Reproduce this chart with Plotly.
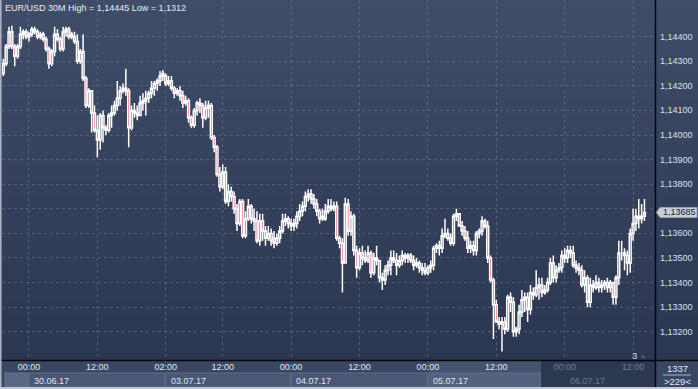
import plotly.graph_objects as go

# ---------------- DATA (EUR/USD 30M, prices in pips = 1e-4) ----------------
opens = [11424,11425,11429,11436,11442,11436,11432,11436,11441,11442,11440,11441,11443,11442,11440,11441,11439,11435,11429,11434,
11441,11439,11435,11442,11443,11441,11440,11438,11430,11434,11423,11412,11418,11409,11402,11398,11408,11403,11402,11408,
11409,11412,11415,11418,11419,11418,11403,11410,11409,11408,11413,11414,11415,11417,11419,11421,11422,11424,11424,11421,
11422,11419,11417,11418,11416,11413,11414,11407,11404,11410,11413,11412,11407,11411,11412,11399,11395,11384,11379,11385,
11373,11377,11375,11370,11364,11373,11359,11366,11371,11366,11365,11357,11365,11361,11358,11360,11358,11356,11358,11361,
11365,11366,11364,11363,11364,11367,11369,11371,11375,11376,11374,11372,11369,11367,11366,11369,11371,11370,11371,11358,
11356,11348,11372,11361,11367,11353,11346,11352,11350,11349,11352,11344,11350,11349,11342,11341,11345,11347,11350,11349,
11347,11349,11351,11350,11351,11349,11347,11348,11346,11345,11344,11346,11347,11354,11355,11354,11359,11360,11358,11356,
11367,11368,11363,11361,11358,11354,11355,11353,11360,11361,11365,11363,11350,11341,11331,11324,11323,11324,11321,11334,
11332,11320,11321,11328,11333,11334,11329,11336,11335,11338,11339,11336,11337,11340,11348,11342,11345,11346,11351,11350,
11353,11352,11347,11346,11345,11339,11342,11332,11339,11338,11340,11338,11339,11340,11338,11340,11334,11342,11352,11352,
11351,11348,11360,11364,11367,11366,11367]
highs = [11428,11431,11437,11444,11444.5,11437,11437,11444,11443,11443,11442,11444,11444,11443,11442,11442,11440,11436,11435,11444,
11443,11440,11444,11444,11444,11442,11442,11441,11435,11441,11424,11419,11418,11412,11408,11409,11410,11404,11409,11412,
11414,11422,11420,11421,11427,11419,11412,11413,11412,11416,11417,11418,11418,11422,11422,11423,11426,11426.5,11425,11424,
11424,11420,11419,11420,11418,11416,11415,11408,11411,11414,11415,11413,11414,11414,11413,11400,11396,11387,11388,11387,
11380,11379,11377,11372,11374,11374,11369,11374,11372,11370,11369,11368,11368,11363,11363,11362,11361,11360,11363,11368,
11368,11367,11366,11366,11369,11372,11373,11377,11378,11378,11376,11374,11370,11370,11372,11374,11374,11373,11373,11359,
11358,11374.5,11374,11369,11368,11355,11354,11355,11353,11355,11353,11352,11355,11349,11344,11347,11349,11353,11353,11352,
11351,11353,11352,11352,11352,11351,11350,11349,11348,11348,11347,11349,11355,11356,11357,11362,11366,11362,11360,11368,
11370,11368,11365,11363,11361,11357,11357,11361,11362,11367,11366,11365,11351,11342,11333,11326,11326,11326,11335,11336,
11334,11322,11331,11337,11336,11336,11339,11338,11345,11342,11342,11339,11342,11350,11351,11347,11348,11353,11354,11355,
11355,11355,11349,11348,11347,11345,11343,11342,11341,11343,11342,11341,11341,11342,11341,11340,11343,11357,11357,11354,
11353,11362,11370,11370,11374,11372,11374]
lows = [11423,11424,11428,11435,11435,11428,11431,11435,11439,11439,11438,11440,11441,11439,11439,11438,11434,11427,11428,11432,
11438,11434,11434,11440,11439,11439,11437,11429,11429,11422,11411,11411,11401,11401,11391,11394,11397,11400,11401,11403,
11408,11410,11412,11417,11416,11395,11402,11407,11406,11408,11410,11408,11413,11415,11416,11418,11420,11422,11420,11420,
11418,11415,11416,11414,11411,11412,11405,11403,11403,11408,11409,11403,11406,11407,11398,11393,11383,11377,11378,11372,
11371,11373,11368,11361,11363,11358,11358,11365,11364,11361,11356,11355,11357,11355,11357,11355,11354,11355,11356,11360,
11363,11362,11361,11361,11362,11365,11367,11369,11373,11372,11370,11367,11364,11365,11365,11368,11369,11369,11357,11354,
11336,11348,11359,11359,11351,11342,11345,11347,11348,11348,11342,11343,11347,11340,11337,11339,11343,11343,11348,11343,
11346,11347,11348,11348,11348,11345,11346,11344,11343,11343,11343,11344,11345,11352,11351,11352,11358,11357,11355,11355,
11365,11363,11359,11357,11352,11352,11351,11351,11358,11359,11362,11348,11340,11317,11324,11321,11312,11319,11320,11328,
11318,11318,11319,11326,11328,11324,11327,11333,11334,11333,11334,11335,11336,11339,11340,11340,11344,11344,11348,11348,
11350,11346,11344,11343,11338,11336,11330,11330,11336,11337,11336,11336,11337,11336,11336,11331,11331,11339,11349,11345,
11343,11344,11357,11361,11362,11364,11365]
closes = [11427,11429,11436,11442,11436,11432,11436,11441,11442,11440,11441,11443,11442,11440,11441,11439,11435,11429,11434,11441,
11439,11435,11442,11443,11440,11440,11438,11430,11434,11423,11412,11418,11409,11402,11398,11408,11403,11402,11408,11409,
11412,11415,11418,11419,11418,11403,11410,11409,11408,11413,11414,11415,11417,11419,11421,11422,11424,11425,11421,11422,
11419,11417,11418,11416,11413,11414,11407,11404,11410,11413,11412,11407,11411,11412,11399,11395,11384,11379,11385,11373,
11377,11375,11370,11364,11373,11359,11366,11371,11366,11365,11357,11365,11361,11358,11360,11357,11356,11358,11361,11365,
11366,11364,11363,11364,11367,11369,11371,11375,11376,11374,11372,11369,11366,11366,11369,11371,11370,11371,11358,11356,
11348,11372,11361,11367,11353,11346,11352,11350,11349,11352,11344,11350,11349,11342,11341,11345,11347,11350,11349,11347,
11349,11351,11350,11351,11349,11347,11348,11346,11345,11344,11346,11347,11354,11355,11354,11359,11360,11358,11356,11367,
11368,11363,11361,11358,11354,11355,11353,11360,11361,11365,11363,11350,11341,11331,11324,11323,11324,11321,11334,11332,
11320,11321,11328,11333,11334,11329,11336,11335,11338,11339,11336,11337,11340,11348,11342,11345,11346,11351,11350,11353,
11352,11347,11346,11345,11339,11342,11332,11339,11338,11340,11338,11339,11340,11338,11340,11334,11342,11352,11352,11351,
11348,11360,11364,11367,11366,11367,11368.5]

tick_idx = [10, 34, 58, 78, 102, 126, 150, 174, 198, 222]
tick_times = ["00:00", "12:00", "02:00", "12:00", "00:00", "12:00", "00:00", "12:00", "00:00", "12:00"]
date_idx = [10, 58, 102, 150, 198]
date_labels = ["30.06.17", "03.07.17", "04.07.17", "05.07.17", "06.07.17"]
price_ticks = [1.132, 1.133, 1.134, 1.135, 1.136, 1.137, 1.138, 1.139, 1.140, 1.141, 1.142, 1.143, 1.144]
symbol = "EUR/USD 30M"
bars_count = "1337"
visible_bars = ">229<"
scale_label = "3"

# ---------------- LAYOUT CONSTANTS ----------------
W, H = 698, 389
ML, MR, MT, MB = 2, 43, 0, 29
PW, PH = W - ML - MR, H - MT - MB
FONT = "Liberation Sans, Arial, sans-serif"
TXT = "#dfe7f3"
DIM = "#6f7b93"
shade_start = 190   # bar where the dark "future" overlay starts

def px(x):
    return (x - ML) / PW

def py(y):
    return (PH + MT - y) / PH

def fmt(v):
    return f"{v:.5f}".replace(".", ",")

O = [v / 1e4 for v in opens]
Hh = [v / 1e4 for v in highs]
L = [v / 1e4 for v in lows]
C = [v / 1e4 for v in closes]
bars = list(range(len(C)))

fig = go.Figure()
fig.add_trace(go.Candlestick(
    x=bars, open=O, high=Hh, low=L, close=C,
    increasing=dict(line=dict(color="#ffffff", width=1.5), fillcolor="rgba(0,0,0,0)"),
    decreasing=dict(line=dict(color="#ffffff", width=1.5), fillcolor="#f00030"),
    whiskerwidth=0, hoverinfo="skip", showlegend=False,
))

shapes = []
# gradient background for plot + price panel
N = 72
top = (64, 77, 104)
bot = (43, 54, 80)
for k in range(N):
    t = (k + 0.5) / N
    col = tuple(round(top[j] + (bot[j] - top[j]) * t) for j in range(3))
    y0 = k * PH / N
    y1 = (k + 1) * PH / N + 0.6
    shapes.append(dict(type="rect", xref="paper", yref="paper", layer="below",
                       x0=px(0), x1=px(W), y0=py(y1), y1=py(y0),
                       fillcolor="rgb(%d,%d,%d)" % col, line=dict(width=0)))
# bottom time panel
shapes.append(dict(type="rect", xref="paper", yref="paper", layer="below",
                   x0=px(0), x1=px(W), y0=py(H), y1=py(360),
                   fillcolor="#3a4763", line=dict(width=0)))
# highlighted day region (top row)
shapes.append(dict(type="rect", xref="x", yref="paper", layer="below",
                   x0=date_idx[3], x1=shade_start, y0=py(373), y1=py(361),
                   fillcolor="#44536f", line=dict(width=0)))
# small left box in date row
shapes.append(dict(type="rect", xref="paper", yref="paper", layer="below",
                   x0=px(5), x1=px(28), y0=py(387), y1=py(373),
                   fillcolor="#5a6884", line=dict(color="#66748f", width=1)))
# date boxes
for j in range(len(date_idx) - 1):
    x1 = date_idx[j + 1] if j < len(date_idx) - 2 else shade_start
    fill = "#53627f" if j == 3 else "#4a5876"
    shapes.append(dict(type="rect", xref="x", yref="paper", layer="below",
                       x0=date_idx[j], x1=x1 - 0.3, y0=py(387), y1=py(373),
                       fillcolor=fill, line=dict(color="#5e6c89", width=1)))
# dark overlay of last region
shapes.append(dict(type="rect", xref="x", yref="paper", layer="below",
                   x0=shade_start, x1=len(C) + 10, y0=py(387), y1=py(361),
                   fillcolor="#2d3851", line=dict(width=0)))
shapes.append(dict(type="line", xref="x", yref="paper", layer="below",
                   x0=shade_start, x1=shade_start, y0=py(387), y1=py(361),
                   line=dict(color="#26304a", width=1)))
# right-bottom box
shapes.append(dict(type="rect", xref="paper", yref="paper", layer="below",
                   x0=px(656), x1=px(W), y0=py(387), y1=py(361),
                   fillcolor="#3a4763", line=dict(width=0)))
shapes.append(dict(type="line", xref="paper", yref="paper", layer="above",
                   x0=px(663), x1=px(691), y0=py(375), y1=py(375),
                   line=dict(color="#aab4c6", width=1)))
# black frame lines
shapes.append(dict(type="line", xref="paper", yref="paper", layer="above",
                   x0=px(0), x1=px(W), y0=py(360.5), y1=py(360.5),
                   line=dict(color="#05070c", width=1.5)))
shapes.append(dict(type="line", xref="paper", yref="paper", layer="above",
                   x0=px(655.5), x1=px(655.5), y0=py(387), y1=py(0),
                   line=dict(color="#05070c", width=1.5)))
# outer light borders
shapes.append(dict(type="rect", xref="paper", yref="paper", layer="above",
                   x0=px(0), x1=px(1.6), y0=py(H), y1=py(0),
                   fillcolor="#a9b1c0", line=dict(width=0)))
shapes.append(dict(type="rect", xref="paper", yref="paper", layer="above",
                   x0=px(0), x1=px(W), y0=py(H), y1=py(387),
                   fillcolor="#c3c8d0", line=dict(width=0)))
# last price tag
shapes.append(dict(type="path", xref="paper", yref="y", layer="above",
                   xsizemode="pixel", ysizemode="pixel", xanchor=1.0, yanchor=C[-1],
                   path="M 1.5,0 L 5,5 L 42,5 L 42,-5 L 5,-5 Z",
                   fillcolor="#c9cdd4", line=dict(color="#9aa2b0", width=1)))

annotations = []
hi_txt = fmt(max(Hh))
lo_txt = fmt(min(L)).rstrip("0")
annotations.append(dict(text=f"{symbol} High = {hi_txt} Low = {lo_txt}",
                        xref="paper", yref="paper", x=px(3), y=py(8),
                        xanchor="left", yanchor="middle", showarrow=False,
                        font=dict(family=FONT, size=9, color="#e6ecf5")))
# price scale labels
for v in price_ticks:
    if abs(v - C[-1]) < 0.0004:
        continue  # hidden behind the last-price tag
    annotations.append(dict(text=fmt(v), xref="paper", yref="y", x=px(658), y=v,
                            xanchor="left", yanchor="middle", showarrow=False,
                            font=dict(family=FONT, size=9, color="#d6e1f1")))
for j, (i, lab) in enumerate(zip(date_idx, date_labels)):
    annotations.append(dict(text=lab, xref="x", yref="paper", x=i, y=py(380.5),
                            xanchor="left", yanchor="middle", xshift=3, showarrow=False,
                            font=dict(family=FONT, size=9,
                                      color=DIM if i >= shade_start else TXT)))
annotations.append(dict(text=fmt(C[-1]), xref="paper", yref="y", x=1.0, y=C[-1],
                        xanchor="left", yanchor="middle", xshift=6, showarrow=False,
                        font=dict(family=FONT, size=9, color="#1b2233")))
annotations.append(dict(text=bars_count, xref="paper", yref="paper", x=px(677), y=py(368),
                        xanchor="center", yanchor="middle", showarrow=False,
                        font=dict(family=FONT, size=9.5, color=TXT)))
annotations.append(dict(text=visible_bars, xref="paper", yref="paper", x=px(677), y=py(381),
                        xanchor="center", yanchor="middle", showarrow=False,
                        font=dict(family=FONT, size=9.5, color=TXT)))
annotations.append(dict(text=scale_label, xref="paper", yref="paper", x=px(634), y=py(355),
                        xanchor="center", yanchor="middle", showarrow=False,
                        font=dict(family=FONT, size=9.5, color="#d4dcea")))
annotations.append(dict(text="▲", xref="paper", yref="paper", x=px(643), y=py(356),
                        xanchor="center", yanchor="middle", showarrow=False,
                        font=dict(family=FONT, size=6, color="#56627a")))

tick_text = [(f"<span style='color:{DIM}'>{t}</span>" if i >= shade_start else t)
             for i, t in zip(tick_idx, tick_times)]

fig.update_layout(
    width=W, height=H,
    margin=dict(l=ML, r=MR, t=MT, b=MB, pad=0),
    paper_bgcolor="#3a4763", plot_bgcolor="rgba(0,0,0,0)",
    showlegend=False, boxgap=0.05,
    shapes=shapes, annotations=annotations,
    font=dict(family=FONT, size=9, color=TXT),
    xaxis=dict(range=[0.54, 229.7], tickvals=tick_idx, ticktext=tick_text,
               showgrid=True, gridcolor="rgba(125,140,170,0.42)", griddash="3px,3px",
               gridwidth=1, zeroline=False, showline=False, ticks="",
               tickfont=dict(family=FONT, size=9, color=TXT),
               rangeslider=dict(visible=False), fixedrange=True),
    yaxis=dict(range=[1.130850, 1.145493], side="right", tickvals=price_ticks,
               showticklabels=False, showgrid=True, gridcolor="rgba(125,140,170,0.42)",
               griddash="3px,3px", gridwidth=1, zeroline=False, showline=False,
               ticks="", fixedrange=True),
)

fig.write_html("out.html", config={"displayModeBar": False},
               post_script="document.body.style.margin='0';document.body.style.overflow='hidden';")
